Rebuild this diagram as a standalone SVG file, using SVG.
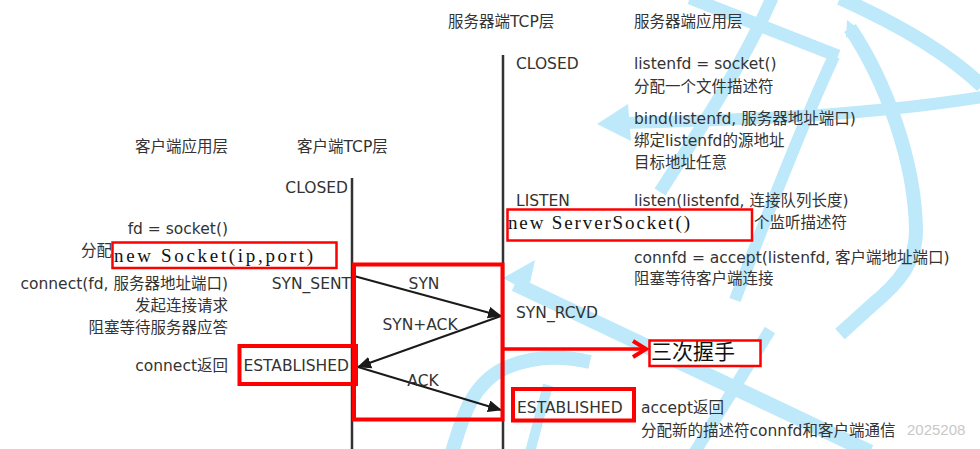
<svg xmlns="http://www.w3.org/2000/svg" width="980" height="449" viewBox="0 0 980 449">
<defs>
<style>
.t{font-family:"DejaVu Sans","Noto Sans CJK SC",sans-serif;font-size:15.5px;fill:#333}
.e{text-anchor:end}
.m{text-anchor:middle}
.sf{font-family:"Liberation Serif","Noto Sans CJK SC",serif;font-size:19px;fill:#111}
.bl{fill:none;stroke:#bde9fa;stroke-linecap:butt}
.bf{fill:#bde9fa}
.rb{fill:#fff;stroke:#f00}
.rn{fill:none;stroke:#f00}
.ln{stroke:#333;stroke-width:2.5}
.ar{stroke:#1a1a1a;stroke-width:2;fill:none;marker-end:url(#ah)}
</style>
<marker id="ah" markerUnits="userSpaceOnUse" markerWidth="14" markerHeight="12" refX="13" refY="6" orient="auto">
<path d="M0,0 L14,6 L0,12 Z" fill="#1a1a1a"/>
</marker>
</defs>
<rect width="980" height="449" fill="#fff"/>
<g id="watermark-shapes">
<path class="bl" stroke-width="13" d="M690,-2 L838,56"/>
<path class="bl" stroke-width="13" d="M772,-2 C745,60 700,130 660,192"/>
<path class="bl" stroke-width="14" d="M840,-2 C900,25 950,55 982,86"/>
<path class="bl" stroke-width="14" d="M850,28 C885,80 915,160 916,230 C916,262 900,282 872,305 L840,334"/>
<polygon class="bf" points="847,20 860,30 846,38"/>
<path class="bl" stroke-width="12" d="M622,123 C720,120 850,118 982,97"/>
<polygon class="bf" points="597,124 628,104 631,141"/>
<path class="bl" stroke-width="12" d="M834,56 C800,130 765,220 735,300"/>
<path class="bl" stroke-width="12" d="M770,330 L695,452"/>
<path class="bl" stroke-width="15" d="M515,284 L870,452"/>
<polygon class="bf" points="503,278 535,260 528,292"/>
<path class="bl" stroke-width="14" d="M452,452 C462,420 470,385 505,368 C530,357 560,355 590,362"/>
<path class="bl" stroke-width="10" d="M530,452 L548,385"/>
</g>
<g id="lifelines">
<line class="ln" x1="352" y1="178" x2="352" y2="449"/>
<line class="ln" x1="503" y1="55" x2="503" y2="449"/>
</g>
<g id="headers">
<text class="t e" x="228" y="151.5">客户端应用层</text>
<text class="t" x="297" y="151.5">客户端TCP层</text>
<text class="t" x="448" y="27">服务器端TCP层</text>
<text class="t" x="634" y="27">服务器端应用层</text>
</g>
<g id="client-app">
<text class="t e" x="228" y="233.5">fd = socket()</text>
<text class="t e" x="112" y="255.5">分配</text>
<text class="t e" x="228" y="289">connect(fd, 服务器地址端口)</text>
<text class="t e" x="228" y="311">发起连接请求</text>
<text class="t e" x="228" y="333">阻塞等待服务器应答</text>
<text class="t e" x="228" y="371">connect返回</text>
</g>
<g id="client-tcp">
<text class="t e" x="348" y="192.5">CLOSED</text>
<text class="t e" x="351" y="289">SYN_SENT</text>
<text class="t e" x="349" y="371">ESTABLISHED</text>
</g>
<g id="server-tcp">
<text class="t" x="516" y="68.5">CLOSED</text>
<text class="t" x="516" y="205.5">LISTEN</text>
<text class="t" x="516" y="317.5">SYN_RCVD</text>
<text class="t" x="517" y="413">ESTABLISHED</text>
</g>
<g id="server-app">
<text class="t" x="634" y="68.5">listenfd = socket()</text>
<text class="t" x="634" y="91.5">分配一个文件描述符</text>
<text class="t" x="634" y="123.5">bind(listenfd, 服务器地址端口)</text>
<text class="t" x="634" y="145.5">绑定listenfd的源地址</text>
<text class="t" x="634" y="167.5">目标地址任意</text>
<text class="t" x="634" y="205.5">listen(listenfd, 连接队列长度)</text>
<text class="t" x="754" y="228">个监听描述符</text>
<text class="t" x="634" y="262.5">connfd = accept(listenfd, 客户端地址端口)</text>
<text class="t" x="634" y="283.5">阻塞等待客户端连接</text>
<text class="t" x="641" y="413">accept返回</text>
<text class="t" x="641" y="435.5">分配新的描述符connfd和客户端通信</text>
</g>
<text x="907" y="435" font-family="Liberation Sans, sans-serif" font-size="15" fill="#c8c8c8">2025208</text>
<g id="connectors">
<line class="ar" x1="354" y1="276" x2="501" y2="316"/>
<line class="ar" x1="501" y1="316" x2="358" y2="367"/>
<line class="ar" x1="358" y1="367" x2="501" y2="410"/>
<text class="t m" x="424" y="288.5">SYN</text>
<text class="t m" x="420" y="330">SYN+ACK</text>
<text class="t m" x="423" y="385.5">ACK</text>
</g>
<g id="annotations">
<rect class="rn" x="354" y="264.5" width="148.5" height="155" stroke-width="4"/>
<rect class="rn" x="239.5" y="346" width="116.5" height="38" stroke-width="4"/>
<rect class="rn" x="513" y="389" width="121" height="31.5" stroke-width="4"/>
<g id="note-handshake">
<line x1="503" y1="349" x2="645" y2="349" stroke="#f00" stroke-width="3.5"/>
<polyline class="rn" points="633,341 646,349 633,357" stroke-width="4"/>
<rect class="rb" x="649.5" y="340.5" width="111" height="25.5" stroke-width="2.5"/>
<text x="651" y="359" font-family="Noto Sans CJK SC, sans-serif" font-size="21" fill="#111">三次握手</text>
</g>
<g id="note-socket">
<rect class="rb" x="112.5" y="242.5" width="224" height="25.5" stroke-width="2.5"/>
<text class="sf" x="114" y="261.5" textLength="199" lengthAdjust="spacing">new Socket(ip,port)</text>
</g>
<g id="note-serversocket">
<rect class="rb" x="507.5" y="209.5" width="244.5" height="31" stroke-width="2.5"/>
<text class="sf" x="508" y="228.5" textLength="182" lengthAdjust="spacing">new ServerSocket()</text>
</g>
</g>
</svg>
